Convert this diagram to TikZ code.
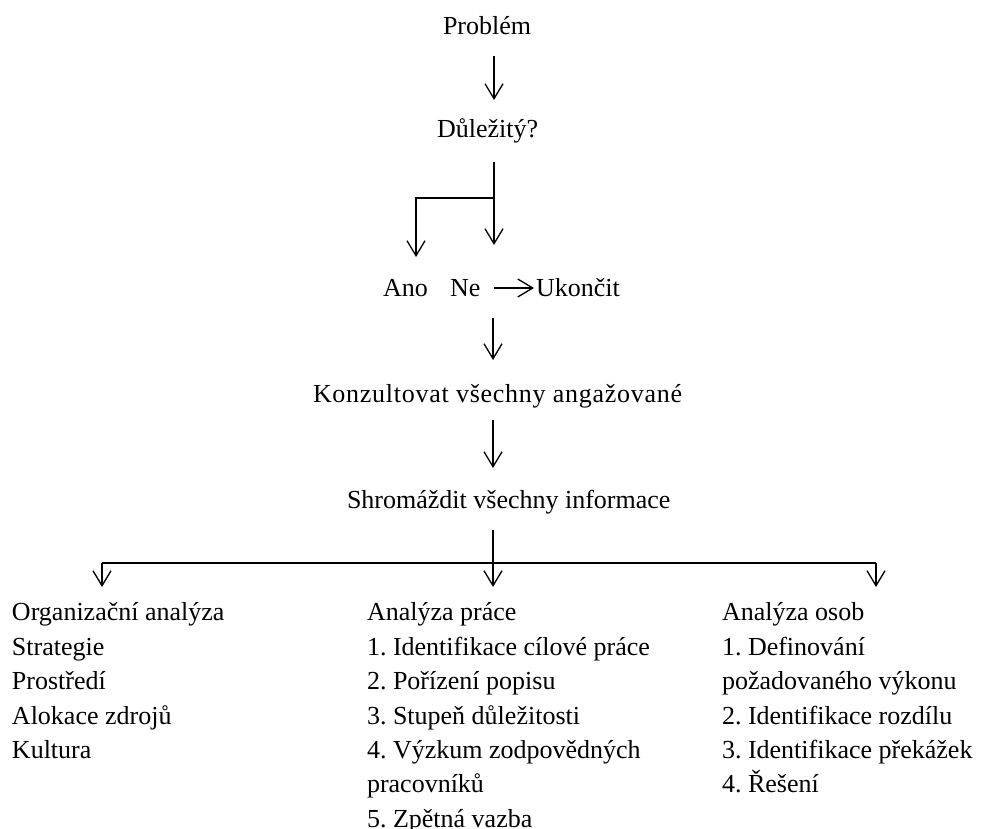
\documentclass[tikz,border=0pt]{standalone}
\usepackage{fontspec}
\setmainfont{Liberation Serif}
\usetikzlibrary{arrows.meta}
\frenchspacing
\begin{document}
\begin{tikzpicture}[x=1pt,y=-1pt,
  txt/.style={anchor=base west,inner sep=0pt,outer sep=0pt,
    font=\fontsize{26}{34.4}\selectfont},
  col/.style={txt,anchor=north west,align=left},
  link/.style={line width=1.3pt,black},
  arr/.style={link,-{Straight Barb[length=15pt,width=18pt,line width=1.3pt]}}]
\useasboundingbox (0,0) rectangle (982,829);

% flow items
\node[txt] (prob) at (443,35) {Problém};
\node[txt] (dul)  at (437,138) {Důležitý?};
\node[txt] (ano)  at (383,296) {Ano};
\node[txt] (ne)   at (450,296) {Ne};
\node[txt] (ukon) at (536,296) {Ukončit};
\node[txt] (konz) at (313,402) {\addfontfeature{LetterSpace=2.8}Konzultovat všechny angažované};
\node[txt] (shrom) at (347,508) {Shromáždit všechny informace};

% three analysis columns (first baseline at y = 621)
\node[col] (org) at (12,596.9) {\strut Organizační analýza\\Strategie\\Prostředí\\Alokace zdrojů\\Kultura};
\node[col] (prace) at (367,596.9) {\strut Analýza práce\\1. Identifikace cílové práce\\2. Pořízení popisu\\3. Stupeň důležitosti\\4. Výzkum zodpovědných\\pracovníků\\5. Zpětná vazba};
\node[col] (osob) at (722,596.9) {\strut Analýza osob\\1. Definování\\požadovaného výkonu\\2. Identifikace rozdílu\\3. Identifikace překážek\\4. Řešení};

% connector end points
\coordinate (p1) at (494,56);   \coordinate (d1) at (494,100);
\coordinate (d2) at (494,162);  \coordinate (split) at (494,198);
\coordinate (neTip) at (494,245); \coordinate (anoTip) at (416,257);
\coordinate (neR) at (494,288); \coordinate (ukL) at (534,288);
\coordinate (k1) at (493,318);  \coordinate (k2) at (493,360);
\coordinate (s1) at (493,420);  \coordinate (s2) at (493,468);
\coordinate (b1) at (493,530);  \coordinate (bar) at (493,563);
\coordinate (orgTip) at (102,587); \coordinate (praceTip) at (493,587);
\coordinate (osobTip) at (876,587);

\draw[arr] (p1) -- (d1);
\draw[arr] (d2) -- (neTip);
\draw[arr] (split) -| (anoTip);
\draw[arr] (neR) -- (ukL);
\draw[arr] (k1) -- (k2);
\draw[arr] (s1) -- (s2);
\draw[arr] (b1) -- (praceTip);
\draw[link] (orgTip |- bar) -- (osobTip |- bar);
\draw[arr] (orgTip |- bar) -- (orgTip);
\draw[arr] (osobTip |- bar) -- (osobTip);
\end{tikzpicture}
\end{document}
